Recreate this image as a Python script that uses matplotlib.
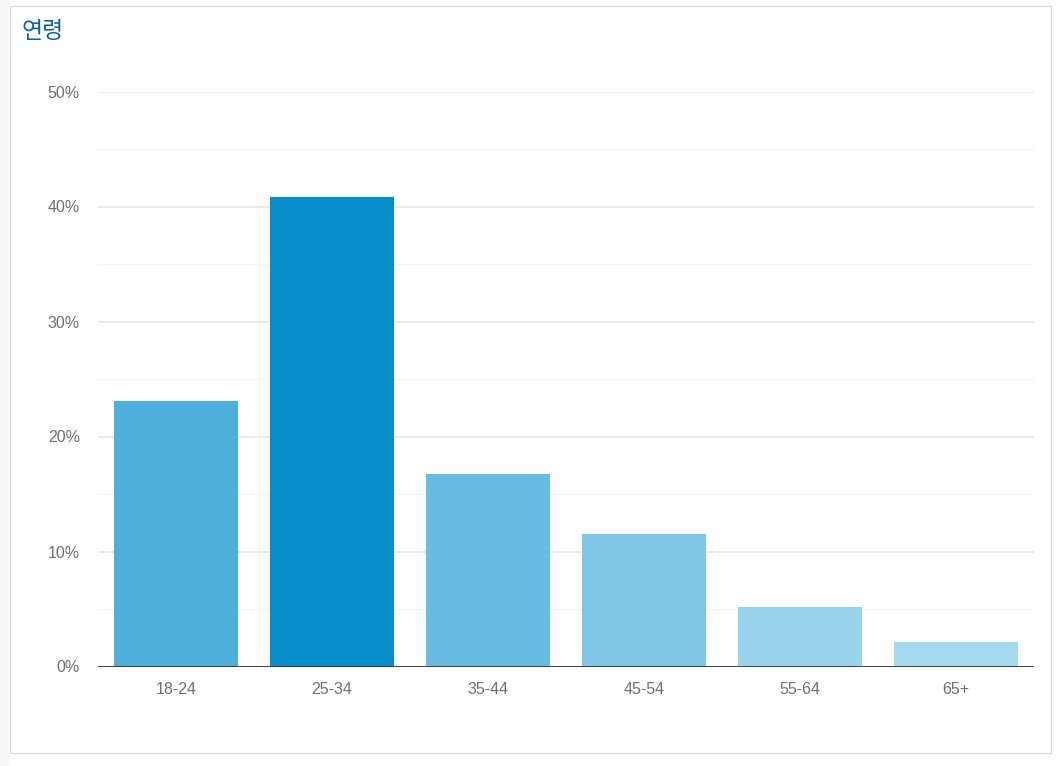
import matplotlib.pyplot as plt
from matplotlib.patches import Rectangle

plt.rcParams['font.family'] = ['Liberation Sans', 'Noto Sans CJK KR', 'DejaVu Sans']

categories = ['18-24', '25-34', '35-44', '45-54', '55-64', '65+']
values = [23.05, 40.8, 16.7, 11.5, 5.2, 2.1]
colors = ['#4eb0da', '#078dc8', '#69bce1', '#7fc7e6', '#98d4ec', '#a3daf0']
yticks = [0, 10, 20, 30, 40, 50]

W, H = 1062, 766
fig = plt.figure(figsize=(W / 100, H / 100), dpi=100)
fig.patch.set_facecolor('white')

# page strip + panel border, kept behind the axes
fig.add_artist(Rectangle((0, 0), 9 / W, 1, transform=fig.transFigure,
                         facecolor='#f6f8fa', edgecolor='none', zorder=-2))
fig.add_artist(Rectangle((9.5 / W, 1 - 752.5 / H), 1041 / W, 747 / H,
                         transform=fig.transFigure, facecolor='white',
                         edgecolor='#dcdcdc', linewidth=1, zorder=-1))

fig.text(22 / W, 1 - 31 / H, '연령', fontsize=16.5, color='#0a5fa5',
         va='center', ha='left', family=['Noto Sans CJK KR'])

ax = fig.add_axes([98 / W, 1 - 666.5 / H, (1034 - 98) / W, (666 - 91) / H])
ax.set_facecolor('none')
x = list(range(len(categories)))
ax.bar(x, values, width=0.795, color=colors, zorder=3)
ax.set_xlim(-0.5, len(categories) - 0.5)
ax.set_ylim(0, 50)

for v in range(5, 50, 10):
    ax.axhline(v, color='#f5f5f5', linewidth=1, zorder=1)
for v in yticks[1:]:
    ax.axhline(v, color='#e6e6e6', linewidth=1.2, zorder=1)
ax.axhline(0, color='#333333', linewidth=1.3, zorder=4)

ax.set_yticks(yticks)
ax.set_yticklabels(['{}%'.format(t) for t in yticks])
ax.set_xticks(x)
ax.set_xticklabels(categories)
ax.tick_params(length=0, labelsize=11.5, labelcolor='#707070')
ax.tick_params(axis='y', pad=13)
ax.tick_params(axis='x', pad=11)
for s in ax.spines.values():
    s.set_visible(False)

fig.savefig('out.png', dpi=100)
